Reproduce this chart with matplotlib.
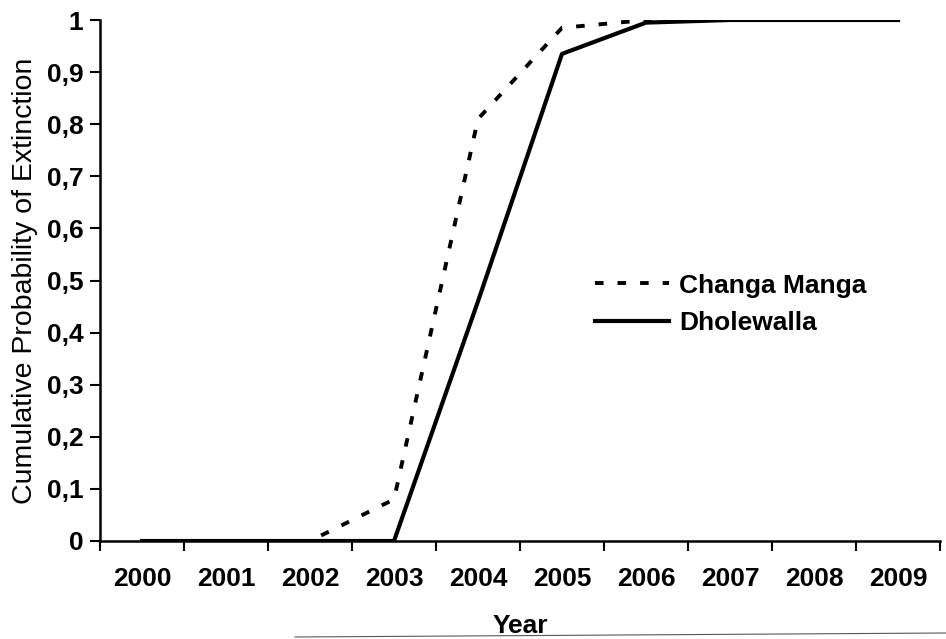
import matplotlib
matplotlib.use('Agg')
import matplotlib.pyplot as plt
from matplotlib.lines import Line2D

# dados
anos = ['2000', '2001', '2002', '2003', '2004', '2005', '2006', '2007', '2008', '2009']
changa_manga = [0, 0, 0, 0.08, 0.81, 0.985, 1.0, 1.0, 1.0, 1.0]
dholewalla = [0, 0, 0, 0, 0.46, 0.935, 0.995, 1.0, 1.0, 1.0]
yticks = [0, 0.1, 0.2, 0.3, 0.4, 0.5, 0.6, 0.7, 0.8, 0.9, 1]
ylabels = ['0', '0,1', '0,2', '0,3', '0,4', '0,5', '0,6', '0,7', '0,8', '0,9', '1']

plt.rcParams['font.family'] = ['Liberation Sans', 'DejaVu Sans']

fig = plt.figure(figsize=(9.46, 6.39), dpi=100)
ax = fig.add_axes([100/946, 1 - 541/639, 840/946, 521/639])

x = list(range(len(anos)))
ax.plot(x, changa_manga, color='black', lw=2.8, linestyle=(0, (2.2, 3.6)),
        label='Changa Manga')
ax.plot(x, dholewalla, color='black', lw=3.0, label='Dholewalla')

ax.set_xlim(-0.5, len(anos) - 0.5)
ax.set_ylim(0, 1)
ax.set_xticks(x)
ax.set_xticklabels(anos, fontsize=19, fontweight='bold')
ax.set_xticks([i - 0.5 for i in range(len(anos) + 1)], minor=True)
ax.tick_params(axis='x', which='major', length=0, pad=19)
ax.tick_params(axis='x', which='minor', length=7, width=1.5, direction='out')
ax.set_yticks(yticks)
ax.set_yticklabels(ylabels, fontsize=19, fontweight='bold')
ax.tick_params(axis='y', length=7, width=1.5, pad=5)

for lado in ['top', 'right']:
    ax.spines[lado].set_visible(False)
for lado in ['left', 'bottom']:
    ax.spines[lado].set_linewidth(1.8)

ax.set_ylabel('Cumulative Probability of Extinction', fontsize=20.5, labelpad=6)
ax.set_xlabel('Year', fontsize=19, fontweight='bold', labelpad=16)

leg = ax.legend(loc='upper left', bbox_to_anchor=(0.589, 0.513), frameon=False,
                prop={'weight': 'bold', 'size': 19},
                handlelength=2.8, handletextpad=0.4, labelspacing=0.5,
                borderpad=0, borderaxespad=0)

# linha da borda da pagina escaneada
fig.add_artist(Line2D([295/946, 1], [1 - 637/639, 1 - 633/639], color='0.35', lw=0.8))

fig.savefig('out.png', dpi=100, facecolor='white')
